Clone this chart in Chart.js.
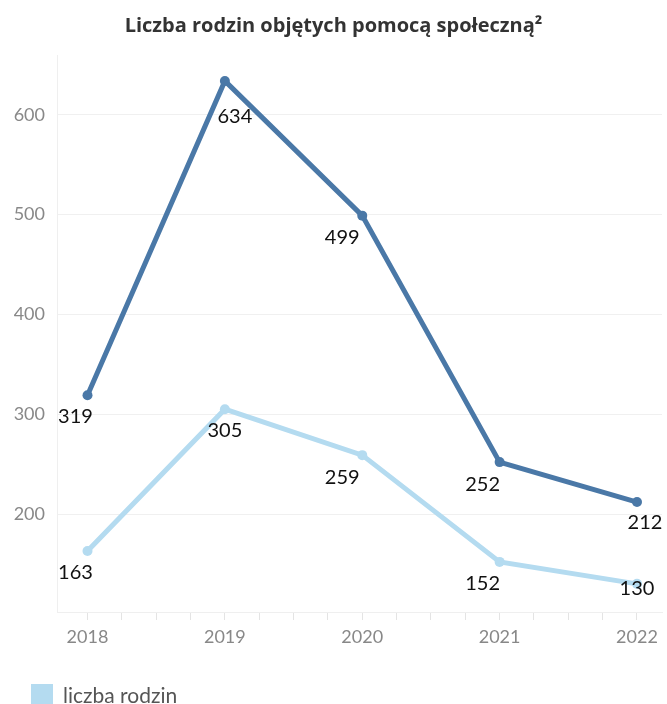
<!DOCTYPE html>
<html>
<head>
<meta charset="utf-8">
<script src="https://cdn.jsdelivr.net/npm/chart.js@4.4.1/dist/chart.umd.min.js"></script>
<style>
    html, body { margin: 0; padding: 0; background: #fff; overflow: hidden; }
    #wrap { position: relative; width: 667px; height: 704px; overflow: hidden; }
    #legend { position: absolute; left: 31px; top: 682px; display: flex; align-items: center;
              font-family: Lato, sans-serif; font-size: 21px; color: #555; }
    #legend .box { width: 22px; height: 22px; margin-right: 10px; }
</style>
</head>
<body>
<div id="wrap">
    <canvas id="chart" width="667" height="704"></canvas>
    <div id="legend"></div>
</div>
<script>
// dane
const years = [2018, 2019, 2020, 2021, 2022];
const liczbaOsob = [319, 634, 499, 252, 212];
const liczbaRodzin = [163, 305, 259, 152, 130];
const yTicks = [200, 300, 400, 500, 600];

// przesuniecie etykiet wzgledem punktu (styl)
const offsetsOsob = [[-12, 21], [10, 36], [-20, 22], [-17, 22], [8, 21]];
const offsetsRodzin = [[-12, 22], [0, 21], [-20, 22], [-17, 22], [0, 5]];

const darkBlue = '#4a78a7';
const lightBlue = '#b4dbf0';

// etykiety wartosci przy punktach
const valueLabels = {
    id: 'valueLabels',
    afterDatasetsDraw(chart) {
        const ctx = chart.ctx;
        ctx.save();
        ctx.font = '20px Lato';
        ctx.fillStyle = '#111';
        ctx.textAlign = 'center';
        ctx.textBaseline = 'middle';
        chart.data.datasets.forEach((ds, i) => {
            const meta = chart.getDatasetMeta(i);
            meta.data.forEach((pt, j) => {
                const off = ds.labelOffsets[j];
                ctx.fillText(ds.data[j].y, pt.x + off[0], pt.y + off[1]);
            });
        });
        ctx.restore();
    }
};

const ctx = document.getElementById('chart');

const chart = new Chart(ctx, {
    type: 'line',
    data: {
        datasets: [{
            label: 'liczba osób',
            data: years.map((y, i) => ({ x: y, y: liczbaOsob[i] })),
            borderColor: darkBlue,
            backgroundColor: darkBlue,
            borderWidth: 5,
            pointRadius: 5,
            pointBorderWidth: 0,
            labelOffsets: offsetsOsob
        }, {
            label: 'liczba rodzin',
            data: years.map((y, i) => ({ x: y, y: liczbaRodzin[i] })),
            borderColor: lightBlue,
            backgroundColor: lightBlue,
            borderWidth: 5,
            pointRadius: 5,
            pointBorderWidth: 0,
            labelOffsets: offsetsRodzin
        }]
    },
    options: {
        responsive: false,
        animation: false,
        layout: { padding: { left: 0, right: 0, top: 0, bottom: 30 } },
        plugins: {
            title: {
                display: true,
                text: 'Liczba rodzin objętych pomocą społeczną²',
                color: '#333',
                font: { family: 'Open Sans', size: 20, weight: 'bold' },
                padding: { top: 14, bottom: 17 }
            },
            legend: { display: false },
            tooltip: { enabled: false }
        },
        scales: {
            x: {
                type: 'linear',
                min: 2017.778,
                max: 2022.182,
                afterBuildTicks: scale => {
                    const t = [];
                    for (let v = years[0]; v <= years[years.length - 1] + 0.001; v += 0.25) {
                        t.push({ value: v });
                    }
                    scale.ticks = t;
                },
                afterFit: scale => { scale.height = 62; },
                ticks: {
                    color: '#888',
                    font: { family: 'Lato', size: 18 },
                    padding: 6,
                    maxRotation: 0,
                    autoSkip: false,
                    callback: v => Number.isInteger(v) ? String(v) : ''
                },
                grid: {
                    drawOnChartArea: false,
                    color: '#e4e4e4',
                    tickLength: 8
                },
                border: { color: '#efefef' }
            },
            y: {
                min: 101.8,
                max: 660,
                afterBuildTicks: scale => {
                    scale.ticks = yTicks.map(v => ({ value: v }));
                },
                afterFit: scale => { scale.width = 57; },
                ticks: {
                    color: '#888',
                    font: { family: 'Lato', size: 18 },
                    padding: 12
                },
                grid: {
                    color: '#f0f0f0',
                    drawTicks: false
                },
                border: { color: '#efefef' }
            }
        }
    },
    plugins: [valueLabels]
});

// legenda
const legend = document.getElementById('legend');
const ds = chart.data.datasets[1];
legend.innerHTML = '<span class="box" style="background:' + ds.backgroundColor + '"></span>' + ds.label;
</script>
</body>
</html>
